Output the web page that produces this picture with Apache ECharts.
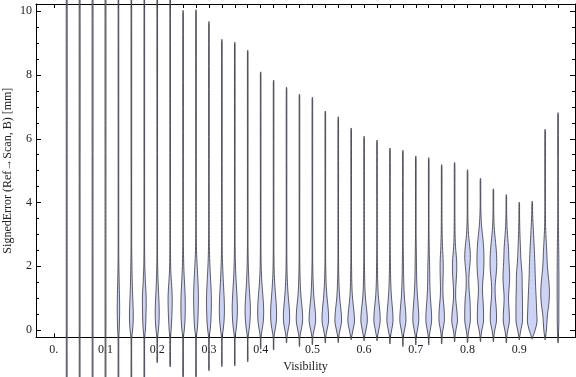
<!DOCTYPE html>
<html>
<head>
<meta charset="utf-8">
<script src="https://cdn.jsdelivr.net/npm/echarts@6/dist/echarts.min.js"></script>
<style>html,body{margin:0;padding:0;background:#fff}#c{width:576px;height:377px}</style>
</head>
<body>
<div id="c"></div>
<script>
// Violin positions (Visibility)
const violinX = [0.025,0.05,0.075,0.1,0.125,0.15,0.175,0.2,0.225,0.25,0.275,0.3,0.325,0.35,0.375,0.4,0.425,0.45,0.475,0.5,0.525,0.55,0.575,0.6,0.625,0.65,0.675,0.7,0.725,0.75,0.775,0.8,0.825,0.85,0.875,0.9,0.925,0.95,0.975];
// Max / min of each distribution (mm)
const maxErr = [10.6,10.6,10.6,10.6,10.6,10.6,10.6,10.6,10.6,10.03,10.05,9.68,9.12,9.03,8.78,8.10,7.84,7.62,7.40,7.30,6.87,6.69,6.34,6.08,5.96,5.71,5.64,5.46,5.41,5.19,5.26,5.03,4.76,4.43,4.25,4.01,4.04,6.30,6.82];
const minErr = [-1.7,-1.7,-1.7,-1.7,-1.7,-1.7,-1.7,-1.03,-1.16,-1.5,-1.5,-1.28,-1.15,-1.13,-1.0,-0.6,-0.63,-0.41,-0.52,-0.47,-0.41,-0.4,-0.31,-0.34,-0.34,-0.44,-0.52,-0.47,-0.47,-0.44,-0.37,-0.4,-0.37,-0.37,-0.41,-0.31,-0.29,-0.31,-0.41];
// Levels (mm) at which the relative density is read
const levels = [-0.25,0,0.25,0.5,0.75,1,1.25,1.5,1.75,2,2.25,2.5,2.75,3,3.25,3.5,3.75,4];
// Relative density at each level, one row per violin
const density = [
[0.4,0.45,0.45,0.45,0.45,0.45,0.45,0.45,0.45,0.45,0.45,0.45,0.45,0.45,0.45,0.45,0.45,0.45],
[0.4,0.45,0.45,0.45,0.45,0.45,0.45,0.45,0.45,0.45,0.45,0.45,0.45,0.45,0.45,0.45,0.45,0.45],
[0.4,0.45,0.45,0.45,0.45,0.45,0.45,0.45,0.45,0.45,0.45,0.45,0.45,0.45,0.45,0.45,0.45,0.45],
[0.4,0.45,0.45,0.45,0.45,0.45,0.45,0.45,0.45,0.45,0.45,0.45,0.45,0.45,0.45,0.45,0.45,0.45],
[0.35,0.8,1.0,1.2,1.2,1.1,0.9,0.75,0.6,0.45,0.35,0.3,0.3,0.3,0.3,0.3,0.3,0.3],
[0.35,1.3,1.8,1.9,1.7,1.4,1.1,0.9,0.7,0.55,0.45,0.35,0.3,0.3,0.3,0.3,0.3,0.3],
[0.35,1.1,1.5,1.7,1.9,1.9,1.6,1.1,0.8,0.5,0.4,0.3,0.3,0.3,0.3,0.3,0.3,0.3],
[0.35,1.2,1.8,2.0,1.9,1.6,1.2,0.9,0.6,0.45,0.35,0.3,0.3,0.3,0.3,0.3,0.3,0.3],
[0.35,1.0,1.4,1.8,2.0,2.1,1.8,1.3,0.8,0.5,0.4,0.3,0.3,0.3,0.3,0.3,0.3,0.3],
[0.35,1.2,1.8,2.1,2.2,2.1,1.8,1.4,1.0,0.7,0.5,0.4,0.3,0.3,0.3,0.3,0.3,0.3],
[0.3,1.2,1.8,2.1,2.3,2.4,2.3,2.0,1.6,1.2,0.8,0.5,0.4,0.3,0.3,0.3,0.3,0.3],
[0.3,1.2,1.9,2.2,2.4,2.4,2.2,1.8,1.4,1.0,0.7,0.5,0.4,0.3,0.3,0.3,0.3,0.3],
[0.3,1.3,2.1,2.5,2.5,2.3,1.9,1.5,1.1,0.8,0.5,0.4,0.3,0.3,0.3,0.3,0.3,0.3],
[0.3,1.3,2.1,2.5,2.6,2.3,1.9,1.4,1.0,0.7,0.5,0.4,0.3,0.3,0.3,0.3,0.3,0.3],
[0.3,1.3,2.2,2.6,2.6,2.2,1.7,1.2,0.9,0.6,0.45,0.35,0.3,0.3,0.3,0.3,0.3,0.3],
[0.3,1.4,2.6,3.0,2.9,2.4,1.8,1.2,0.8,0.5,0.4,0.3,0.3,0.3,0.3,0.3,0.3,0.3],
[0.3,1.5,2.7,3.0,2.8,2.2,1.6,1.1,0.7,0.5,0.4,0.3,0.3,0.3,0.3,0.3,0.3,0.3],
[0.3,1.6,3.0,3.1,2.6,1.9,1.3,0.9,0.6,0.45,0.35,0.3,0.3,0.3,0.3,0.3,0.3,0.3],
[0.3,1.7,3.1,3.1,2.5,1.7,1.1,0.8,0.55,0.4,0.3,0.3,0.3,0.3,0.3,0.3,0.3,0.3],
[0.3,1.7,3.2,3.1,2.4,1.6,1.1,0.8,0.55,0.4,0.3,0.3,0.3,0.3,0.3,0.3,0.3,0.3],
[0.3,1.7,3.2,3.2,2.6,1.8,1.2,0.8,0.55,0.4,0.3,0.3,0.3,0.3,0.3,0.3,0.3,0.3],
[0.3,1.8,3.3,3.1,2.3,1.5,1.0,0.7,0.5,0.4,0.3,0.3,0.3,0.3,0.3,0.3,0.3,0.3],
[0.3,1.8,3.3,3.0,2.2,1.4,0.9,0.65,0.5,0.4,0.3,0.3,0.3,0.3,0.3,0.3,0.3,0.3],
[0.3,1.8,3.2,3.0,2.2,1.4,0.9,0.65,0.5,0.4,0.3,0.3,0.3,0.3,0.3,0.3,0.3,0.3],
[0.3,1.7,3.1,3.0,2.3,1.5,1.0,0.7,0.55,0.45,0.35,0.3,0.3,0.3,0.3,0.3,0.3,0.3],
[0.3,1.7,3.0,2.9,2.3,1.6,1.1,0.8,0.6,0.5,0.4,0.3,0.3,0.3,0.3,0.3,0.3,0.3],
[0.3,1.6,3.0,2.9,2.3,1.6,1.2,0.9,0.7,0.6,0.5,0.4,0.3,0.3,0.3,0.3,0.3,0.3],
[0.3,1.6,2.9,2.9,2.4,1.8,1.3,1.0,0.8,0.7,0.6,0.5,0.4,0.3,0.3,0.3,0.3,0.3],
[0.3,1.5,2.8,2.8,2.3,1.7,1.3,1.1,1.0,0.9,0.7,0.55,0.4,0.3,0.3,0.3,0.3,0.3],
[0.3,1.2,2.6,2.7,2.2,1.5,1.2,1.3,1.5,1.6,1.4,1.0,0.7,0.5,0.4,0.35,0.3,0.3],
[0.3,1.3,2.8,2.6,1.8,1.1,1.1,1.5,2.0,2.2,1.9,1.2,0.7,0.5,0.4,0.35,0.3,0.3],
[0.3,1.3,2.7,2.8,2.7,2.3,1.6,1.3,1.5,2.2,2.8,2.6,1.8,1.0,0.6,0.4,0.3,0.3],
[0.3,1.4,3.0,3.1,2.9,2.4,2.0,2.3,3.0,3.4,3.5,3.3,2.8,2.0,1.2,0.7,0.4,0.3],
[0.3,1.4,3.0,3.1,2.7,2.0,1.7,2.0,2.8,3.3,3.3,2.9,2.2,1.4,0.8,0.5,0.35,0.3],
[0.3,1.5,3.0,3.0,2.5,2.2,2.6,3.2,3.3,2.9,2.5,2.3,1.8,1.2,0.7,0.45,0.3,0.3],
[0.3,1.6,3.2,3.3,3.3,3.2,3.0,2.9,2.8,2.2,1.6,1.3,1.0,0.7,0.5,0.35,0.3,0.3],
[0.5,3.0,4.8,4.6,4.3,4.0,3.6,3.3,3.0,2.8,2.5,2.2,1.8,1.4,1.0,0.6,0.4,0.3],
[0.3,1.3,1.8,2.4,3.5,4.2,4.3,3.8,3.0,2.3,1.9,1.6,1.2,0.8,0.5,0.4,0.3,0.3],
[0.3,0.6,0.8,0.8,0.8,0.9,0.9,0.9,0.9,0.8,0.8,0.7,0.6,0.5,0.4,0.3,0.3,0.3]
];
// Tick values / labels
const xLabelValues = [0,0.1,0.2,0.3,0.4,0.5,0.6,0.7,0.8,0.9];
const xTickValues = [0].concat(violinX);
const yLabelValues = [0,2,4,6,8,10];
const yMinorValues = [0.5,1,1.5,2.5,3,3.5,4.5,5,5.5,6.5,7,7.5,8.5,9,9.5];

const X_MIN = -0.0344, X_MAX = 1.0078, Y_MIN = -0.229, Y_MAX = 10.229;
const font = '"Liberation Serif","DejaVu Serif",serif';

const chart = echarts.init(document.getElementById('c'), null, {renderer: 'canvas'});

function renderViolin(params, api) {
  const i = api.value(3);
  const x = api.value(0), lo = api.value(1), hi = api.value(2);
  const p0 = api.coord([0, 0]), p1 = api.coord([1, 0]);
  const k = 1 / (p1[0] - p0[0]); // one density unit = one pixel of half-width
  const row = density[i];
  const tailLo = row[0], tailHi = row[row.length - 1];
  const right = [];
  right.push([0, lo]);
  right.push([tailLo, lo + 0.06]);
  for (let j = 0; j < levels.length; j++) {
    const l = levels[j];
    if (l > lo + 0.06 && l < hi - 0.06) right.push([row[j], l]);
  }
  right.push([tailHi, hi - 0.06]);
  right.push([0, hi]);
  const pts = [];
  right.forEach(p => pts.push(api.coord([x + p[0] * k, p[1]])));
  for (let j = right.length - 2; j >= 1; j--) {
    const p = right[j];
    pts.push(api.coord([x - p[0] * k, p[1]]));
  }
  return {
    type: 'polygon',
    shape: {points: pts, smooth: 0.3},
    style: {fill: '#cdd3f5', stroke: 'rgba(50,50,60,0.78)', lineWidth: 1}
  };
}

const tickStyle = {color: '#000', width: 1};
const gridPos = {left: 36, right: 1, top: 4, bottom: 39.7, containLabel: false, outerBoundsMode: 'none'};
const option = {
  animation: false,
  grid: [Object.assign({}, gridPos), Object.assign({}, gridPos)],
  xAxis: [{
    type: 'value', gridIndex: 0, min: X_MIN, max: X_MAX, position: 'bottom',
    name: 'Visibility', nameLocation: 'middle', nameGap: 24, nameMoveOverlap: false,
    nameTextStyle: {fontFamily: font, fontSize: 12, color: '#222'},
    axisLine: {show: true, onZero: false, lineStyle: {color: '#000', width: 1}},
    axisTick: {show: true, inside: true, length: 4, customValues: xTickValues, lineStyle: tickStyle},
    axisLabel: {show: true, customValues: xLabelValues, margin: 7, fontFamily: font, fontSize: 12, color: '#222',
      formatter: v => (Math.abs(v) < 1e-9 ? '0.' : v.toFixed(1))},
    splitLine: {show: false}
  }, {
    type: 'value', gridIndex: 0, min: X_MIN, max: X_MAX, position: 'top',
    axisLine: {show: true, onZero: false, lineStyle: {color: '#000', width: 1}},
    axisTick: {show: true, inside: true, length: 4, customValues: xTickValues, lineStyle: tickStyle},
    axisLabel: {show: false}, splitLine: {show: false}
  }, {
    type: 'value', gridIndex: 1, min: X_MIN, max: X_MAX, show: false
  }],
  yAxis: [{
    type: 'value', gridIndex: 0, min: Y_MIN, max: Y_MAX, position: 'left',
    name: 'SignedError (Ref\u2192Scan, B) [mm]', nameLocation: 'middle', nameGap: 22, nameMoveOverlap: false,
    nameTextStyle: {fontFamily: font, fontSize: 12, color: '#222'},
    axisLine: {show: true, onZero: false, lineStyle: {color: '#000', width: 1}},
    axisTick: {show: true, inside: true, length: 5, customValues: yLabelValues, lineStyle: tickStyle},
    axisLabel: {show: true, customValues: yLabelValues, margin: 4, fontFamily: font, fontSize: 12, color: '#222'},
    splitLine: {show: false}
  }, {
    type: 'value', gridIndex: 0, min: Y_MIN, max: Y_MAX, position: 'right',
    axisLine: {show: true, onZero: false, lineStyle: {color: '#000', width: 1}},
    axisTick: {show: true, inside: true, length: 5, customValues: yLabelValues, lineStyle: tickStyle},
    axisLabel: {show: false}, splitLine: {show: false}
  }, {
    type: 'value', gridIndex: 1, min: Y_MIN, max: Y_MAX, position: 'left',
    axisLine: {show: false, onZero: false},
    axisTick: {show: true, inside: true, length: 3, customValues: yMinorValues, lineStyle: tickStyle},
    axisLabel: {show: false}, splitLine: {show: false}
  }, {
    type: 'value', gridIndex: 1, min: Y_MIN, max: Y_MAX, position: 'right',
    axisLine: {show: false, onZero: false},
    axisTick: {show: true, inside: true, length: 3, customValues: yMinorValues, lineStyle: tickStyle},
    axisLabel: {show: false}, splitLine: {show: false}
  }],
  series: [{
    type: 'custom',
    xAxisIndex: 0, yAxisIndex: 0,
    clip: false,
    renderItem: renderViolin,
    encode: {x: 0, y: [1, 2]},
    data: violinX.map((x, i) => [x, minErr[i], maxErr[i], i]),
    z: 1
  }]
};
chart.setOption(option);
</script>
</body>
</html>
